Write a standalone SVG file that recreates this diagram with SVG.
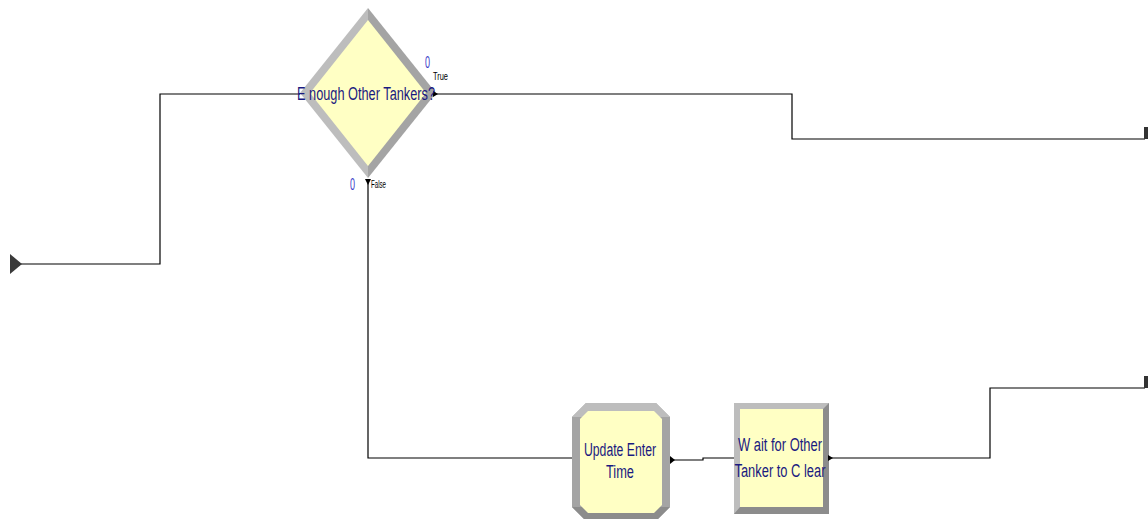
<svg xmlns="http://www.w3.org/2000/svg" width="1148" height="519" viewBox="0 0 1148 519">
<style>
.c{fill:none;stroke:#000;stroke-width:1.2}
.lbl{font-family:"Liberation Sans",Arial,sans-serif;fill:#1a1a80;font-size:18px}
.cnt{font-family:"Liberation Sans",Arial,sans-serif;fill:#3a3ac8;font-size:17px}
.tf{font-family:"Liberation Sans",Arial,sans-serif;fill:#000;font-size:10px}
.y{fill:#ffffc4}
.lg{fill:#bdbdbd}
.mg{fill:#a4a4a4}
.dg{fill:#8c8c8c}
.port{fill:#333}
</style>
<rect width="1148" height="519" fill="#fff"/>
<g id="connectors">
<polyline class="c" points="21,264 160,264 160,94 300,94"/>
<polyline class="c" points="435,94 792,94 792,139 1145,139"/>
<polyline class="c" points="368,180 368,458 572,458"/>
<polyline class="c" points="672,460 703,460 703,458 734,458"/>
<polyline class="c" points="830,458 990,458 990,388 1145,388"/>
<rect class="port" x="1144" y="127" width="4" height="12"/>
<rect class="port" x="1144" y="376" width="4" height="12"/>
</g>
<g id="entry">
<polygon points="10,254 22,264 10,274" fill="#3a3a3a"/>
</g>
<g id="decide">
<polygon class="lg" points="368,8 300,93 368,178"/>
<polygon class="mg" points="368,8 436,93 368,178"/>
<polygon class="y" points="368,20 310,93 368,166 426,93"/>
<polygon points="433,91 438,94 433,97" fill="#000"/>
<polygon points="365,179 371,179 368,185" fill="#000"/>
<text class="lbl" x="297" y="100" textLength="138" lengthAdjust="spacingAndGlyphs">E nough Other Tankers?</text>
<text class="cnt" x="425" y="68" textLength="5" lengthAdjust="spacingAndGlyphs">0</text>
<text class="tf" x="433" y="80" textLength="15" lengthAdjust="spacingAndGlyphs">True</text>
<text class="cnt" x="350" y="190" textLength="5" lengthAdjust="spacingAndGlyphs">0</text>
<text class="tf" x="371" y="188" textLength="15" lengthAdjust="spacingAndGlyphs">False</text>
</g>
<g id="update">
<polygon class="mg" points="586,403 656,403 670,417 670,507 656,521 586,521 572,507 572,417"/>
<polygon class="lg" points="586,403 656,403 670,417 572,417"/>
<polygon class="dg" points="572,507 670,507 656,521 586,521"/>
<polygon class="y" points="588,411 654,411 662,419 662,505 654,513 588,513 580,505 580,419"/>
<polygon points="670,456 675,460 670,464" fill="#000"/>
<text class="lbl" x="620" y="456" text-anchor="middle" textLength="72" lengthAdjust="spacingAndGlyphs">Update Enter</text>
<text class="lbl" x="620" y="478" text-anchor="middle" textLength="28" lengthAdjust="spacingAndGlyphs">Time</text>
</g>
<g id="wait">
<rect class="lg" x="734" y="403" width="95" height="111"/>
<polygon class="dg" points="829,403 829,514 734,514 740,507 823,507 823,409"/>
<rect class="y" x="740" y="409" width="83" height="98"/>
<polygon points="828,455 833,458 828,461" fill="#000"/>
<text class="lbl" x="780" y="451" text-anchor="middle" textLength="84" lengthAdjust="spacingAndGlyphs">W ait for Other</text>
<text class="lbl" x="780" y="477" text-anchor="middle" textLength="91" lengthAdjust="spacingAndGlyphs">Tanker to C lear</text>
</g>
</svg>
